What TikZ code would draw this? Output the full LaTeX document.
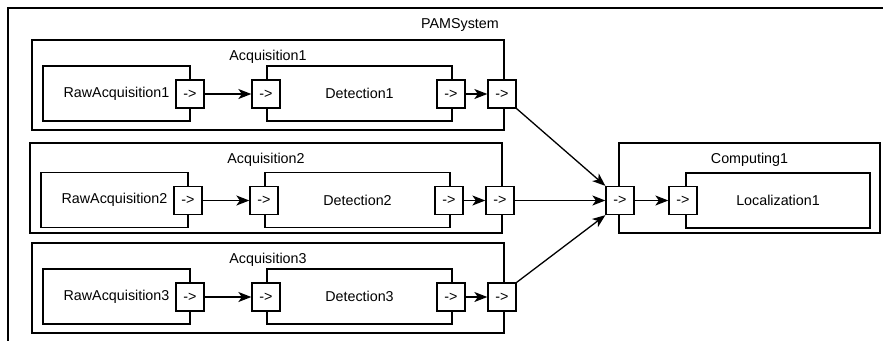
\documentclass[tikz,border=0pt]{standalone}
\usepackage{fontspec}
\setmainfont{Liberation Sans}
\usetikzlibrary{arrows.meta}
\tikzset{
	block/.style={draw, line width=1.3pt, fill=white, inner sep=0pt},
	port/.style={draw, line width=1.3pt, fill=white, inner sep=0pt, minimum size=28pt},
	flow/.style={line width=1.3pt, -{Stealth[length=13pt,width=10pt,inset=3.5pt]}}
}
\begin{document}
\begin{tikzpicture}[x=1pt, y=-1pt, font=\fontsize{14.3}{17}\selectfont]
				%%%%% START %%%%%
				\def\bw{147}
				\def\dw{185}
				\useasboundingbox (0,0) rectangle (883,341);
				
				% outer system, cut off at the page edge
				\draw[line width=1.3pt] (883,8) -| (8,341);
				\node (pam) at (460,25) {PAMSystem};
				
				\foreach \i/\dx/\cy/\py in {1/0/40/94, 2/-2/143/200.5, 3/0/243/297}{
					\node[block, minimum width=472pt, minimum height=90pt] (acq\i) at (268+\dx,\cy+45) {};
					\node (acqlbl\i) at (268+\dx,\cy+17) {Acquisition\i};
					\node[block, minimum width=\bw pt, minimum height=55pt] (raw\i) at (116.5+\dx,\py-0.5) {RawAcquisition\i};
					\node[block, minimum width=\dw pt, minimum height=55pt] (det\i) at (359.5+\dx,\py-0.5) {Detection\i};
					\node[port] (rawout\i) at (190+\dx,\py) {->};
					\node[port] (detin\i) at (266+\dx,\py) {->};
					\node[port] (detout\i) at (451+\dx,\py) {->};
					\node[port] (acqout\i) at (502+\dx,\py) {->};
					\draw[flow] (rawout\i) -- (detin\i);
					\draw[flow] (detout\i) -- (acqout\i);
				}
				
				\node[block, minimum width=261pt, minimum height=90pt] (comp) at (749.5,188) {};
				\node (complbl) at (749.5,160) {Computing1};
				\node[block, minimum width=184pt, minimum height=55pt] (loc) at (778,200.5) {Localization1};
				\node[port] (compin) at (620,200.5) {->};
				\node[port] (locin) at (683,200.5) {->};
				
				\draw[flow] (acqout1.south east) -- (compin.north west);
				\draw[flow] (acqout2) -- (compin);
				\draw[flow] (acqout3.north east) -- (compin.south west);
				\draw[flow] (compin) -- (locin);
				%%%%% END %%%%%
\end{tikzpicture}
\end{document}
